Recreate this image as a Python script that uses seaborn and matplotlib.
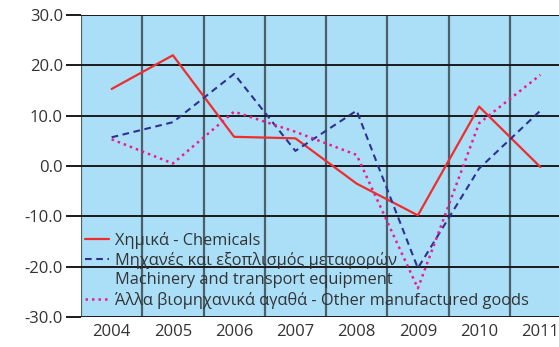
import matplotlib
matplotlib.use("Agg")
import matplotlib.pyplot as plt
from matplotlib.lines import Line2D
import pandas as pd
import seaborn as sns

years = ["2004", "2005", "2006", "2007", "2008", "2009", "2010", "2011"]
chemicals = [15.3, 22.0, 5.8, 5.5, -3.5, -9.8, 11.8, -0.2]
machinery = [5.7, 8.7, 18.3, 3.0, 11.0, -20.3, -0.5, 11.0]
other_goods = [5.3, 0.5, 10.8, 6.8, 2.2, -24.3, 8.5, 18.1]

label_chem = "Χημικά - Chemicals"
label_mach = "Μηχανές και εξοπλισμός μεταφορών"
label_mach2 = "Machinery and transport equipment"
label_other = "Άλλα βιομηχανικά αγαθά - Other manufactured goods"

y_ticks = [-30.0, -20.0, -10.0, 0.0, 10.0, 20.0, 30.0]

sns.set_style("white")
plt.rcParams["font.family"] = ["Open Sans", "DejaVu Sans"]

fig = plt.figure(figsize=(5.59, 3.47), dpi=100)
W, H = 559, 347
ax = fig.add_axes([81 / W, (H - 317) / H, 490 / W, 302 / H])
ax.set_facecolor("#ABDFF8")

df = pd.DataFrame({
    "year": years * 3,
    "value": chemicals + machinery + other_goods,
    "series": [label_chem] * 8 + [label_mach] * 8 + [label_other] * 8,
})

styles = {
    label_chem: dict(color="#EE2D2D", linestyle="-", linewidth=1.6),
    label_mach: dict(color="#2E3192", linestyle=(0, (3.2, 2.2)), linewidth=1.5),
    label_other: dict(color="#EC1C8C", linestyle=(0, (1.0, 1.6)), linewidth=1.8),
}
handles = []
for name in [label_chem, label_mach, label_other]:
    sub = df[df["series"] == name]
    sns.lineplot(data=sub, x="year", y="value", ax=ax, sort=False,
                 legend=False, **styles[name])
    handles.append(Line2D([], [], **styles[name]))

ax.set_xlim(-0.5, 7.5)
ax.set_ylim(-30, 30)
ax.set_yticks(y_ticks)
ax.set_yticklabels([f"{v:.1f}" for v in y_ticks])
ax.set_xticks(range(len(years)))
ax.set_xticklabels(years)
ax.set_xticks([i - 0.5 for i in range(len(years) + 1)], minor=True)

ax.grid(False)
ax.grid(axis="y", which="major", color="#1a1a1a", linewidth=1.4)
ax.grid(axis="x", which="minor", color="#3a4a50", linewidth=1.6, alpha=0.85)
ax.set_axisbelow(True)
for s in ax.spines.values():
    s.set_visible(False)

ax.tick_params(axis="y", which="major", length=11, width=1.4, color="#1a1a1a",
               labelsize=12, labelcolor="#333333", pad=2, left=True)
ax.tick_params(axis="x", which="both", length=0, labelsize=12,
               labelcolor="#333333", pad=5)
ax.set_xlabel("")
ax.set_ylabel("")

blank = Line2D([], [], linestyle="none")
leg = ax.legend(handles=[handles[0], handles[1], blank, handles[2]],
                labels=[label_chem, label_mach, label_mach2, label_other],
                loc="lower left", bbox_to_anchor=(-0.012, -0.005),
                frameon=False, fontsize=11.8, handlelength=1.45,
                handletextpad=0.4, labelspacing=0.2, borderaxespad=0.2,
                labelcolor="#333333")

fig.savefig("out.png", dpi=100)
